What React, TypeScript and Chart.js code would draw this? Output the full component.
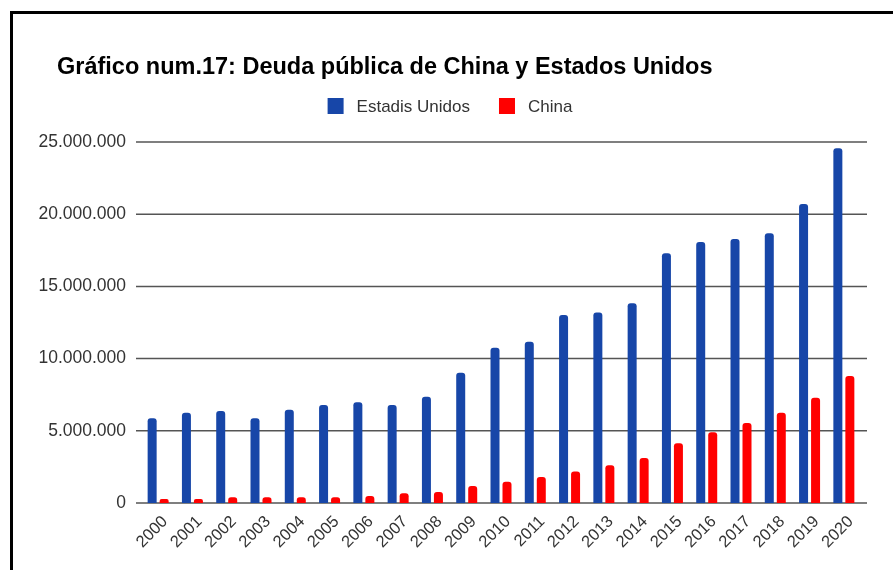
import React, { useEffect, useRef } from "react";
import { Chart, registerables } from "chart.js";

Chart.register(...registerables);

const years = [
  "2000", "2001", "2002", "2003", "2004", "2005", "2006", "2007", "2008", "2009", "2010",
  "2011", "2012", "2013", "2014", "2015", "2016", "2017", "2018", "2019", "2020",
];
const usDebt = [
  5870000, 6250000, 6370000, 5870000, 6460000, 6790000, 6970000, 6790000, 7360000, 9020000, 10760000,
  11170000, 13020000, 13200000, 13830000, 17290000, 18070000, 18280000, 18680000, 20710000, 24560000,
];
const chinaDebt = [
  280000, 280000, 390000, 390000, 390000, 390000, 480000, 670000, 760000, 1180000, 1480000,
  1800000, 2190000, 2610000, 3120000, 4130000, 4900000, 5540000, 6250000, 7290000, 8800000,
];
const yMin = 0;
const yMax = 25000000;
const yStep = 5000000;
const titleText = "Gráfico num.17: Deuda pública de China y Estados Unidos";
const seriesNames = ["Estadis Unidos", "China"];
const seriesColors = ["#1746a8", "#ff0000"];

const FONT = "'Liberation Sans', Arial, Helvetica, sans-serif";

function fmt(v: number): string {
  return String(Math.round(v)).replace(/\B(?=(\d{3})+(?!\d))/g, ".");
}

const gridPlugin = {
  id: "sheetGrid",
  beforeDatasetsDraw(chart: any) {
    const { ctx, chartArea, scales } = chart;
    const y = scales.y;
    ctx.save();
    ctx.strokeStyle = "#555555";
    ctx.lineWidth = 1.5;
    y.ticks.forEach((t: any) => {
      const py = y.getPixelForValue(t.value);
      ctx.beginPath();
      ctx.moveTo(chartArea.left - 5, py);
      ctx.lineTo(chartArea.right + 6, py);
      ctx.stroke();
    });
    ctx.restore();
  },
};

const headerPlugin = {
  id: "sheetHeader",
  afterDraw(chart: any) {
    const ctx = chart.ctx;
    ctx.save();
    // title
    ctx.font = `bold 23.5px ${FONT}`;
    ctx.fillStyle = "#000000";
    ctx.textBaseline = "alphabetic";
    ctx.textAlign = "left";
    ctx.fillText(titleText, 57, 74);
    // legend
    ctx.font = `17px ${FONT}`;
    const box = 16;
    const gap = 13;
    const spacing = 29;
    const items = chart.data.datasets.map((ds: any) => ({
      text: ds.label as string,
      color: ds.backgroundColor as string,
      w: ctx.measureText(ds.label).width as number,
    }));
    const total =
      items.reduce((s: number, it: any) => s + box + gap + it.w, 0) + spacing * (items.length - 1);
    let x = 450 - total / 2;
    const cy = 106;
    items.forEach((it: any) => {
      ctx.fillStyle = it.color;
      ctx.fillRect(x, cy - box / 2, box, box);
      ctx.fillStyle = "#333333";
      ctx.textBaseline = "middle";
      ctx.textAlign = "left";
      ctx.fillText(it.text, x + box + gap, cy + 1);
      x += box + gap + it.w + spacing;
    });
    ctx.restore();
  },
};

export default function App() {
  const canvasRef = useRef<HTMLCanvasElement | null>(null);

  useEffect(() => {
    const canvas = canvasRef.current;
    if (!canvas) return;
    const chart = new Chart(canvas, {
      type: "bar",
      data: {
        labels: years,
        datasets: [
          {
            label: seriesNames[0],
            data: usDebt,
            backgroundColor: seriesColors[0],
            borderRadius: 3,
            categoryPercentage: 0.7,
            barPercentage: 0.75,
          },
          {
            label: seriesNames[1],
            data: chinaDebt,
            backgroundColor: seriesColors[1],
            borderRadius: 3,
            categoryPercentage: 0.7,
            barPercentage: 0.75,
          },
        ],
      },
      options: {
        responsive: false,
        animation: false,
        devicePixelRatio: 1,
        layout: { padding: { left: 20, right: 32, top: 142, bottom: 0 } },
        plugins: {
          legend: { display: false },
          tooltip: { enabled: false },
          title: { display: false, text: titleText },
        },
        scales: {
          x: {
            grid: { display: false, drawTicks: false },
            border: { display: false },
            ticks: {
              color: "#333333",
              font: { family: FONT, size: 16.5 },
              minRotation: 45,
              maxRotation: 45,
              autoSkip: false,
              padding: 9,
              labelOffset: 7,
            },
            afterFit(scale: any) {
              scale.height = 67;
            },
          },
          y: {
            min: yMin,
            max: yMax,
            grid: { display: false, drawTicks: false },
            border: { display: false },
            ticks: {
              stepSize: yStep,
              color: "#333333",
              font: { family: FONT, size: 17.5 },
              padding: 15,
              callback: (v: any) => fmt(Number(v)),
            },
            afterFit(scale: any) {
              scale.width = 121;
            },
          },
        },
      },
      plugins: [gridPlugin, headerPlugin],
    });
    return () => chart.destroy();
  }, []);

  return (
    <div
      style={{
        position: "fixed",
        left: 0,
        top: 0,
        width: 893,
        height: 570,
        overflow: "hidden",
        background: "#ffffff",
      }}
    >
      <div
        style={{
          position: "absolute",
          left: 10,
          top: 11,
          width: 2000,
          height: 2000,
          border: "3px solid #000000",
          boxSizing: "border-box",
        }}
      />
      <canvas
        ref={canvasRef}
        width={893}
        height={570}
        style={{ position: "absolute", left: 0, top: 0, width: 893, height: 570 }}
      />
    </div>
  );
}
